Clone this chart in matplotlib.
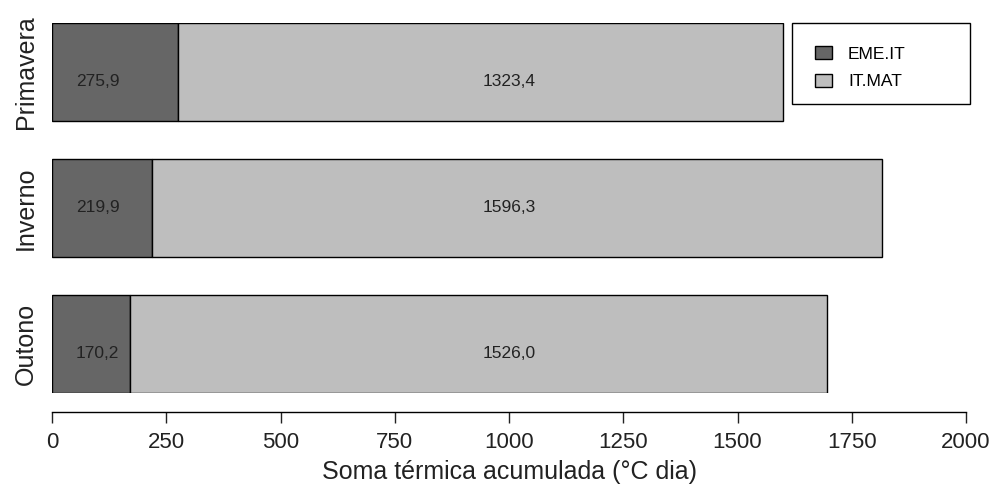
import matplotlib
matplotlib.use('Agg')
import matplotlib.pyplot as plt
from matplotlib.patches import Rectangle
import numpy as np

# --- Data ---
seasons = ['Outono', 'Inverno', 'Primavera']
eme_it = [170.2, 219.9, 275.9]
it_mat = [1526.0, 1596.3, 1323.4]
series_names = ['EME.IT', 'IT.MAT']
x_ticks = [0, 250, 500, 750, 1000, 1250, 1500, 1750, 2000]

plt.rcParams['font.family'] = ['Liberation Sans', 'DejaVu Sans']

W, H = 996, 488
fig = plt.figure(figsize=(W / 100, H / 100), dpi=100)
# axes placed in pixel terms: x 52..966, y 23..393
ax = fig.add_axes([52 / W, (H - 393) / H, (966 - 52) / W, (393 - 23) / H])

y = np.arange(len(seasons))
bar_h = 0.72
dark, light = '#666666', '#bebebe'

ax.barh(y, eme_it, height=bar_h, color=dark, edgecolor='black', linewidth=1.0,
        label=series_names[0])
ax.barh(y, it_mat, left=eme_it, height=bar_h, color=light, edgecolor='black',
        linewidth=1.0, label=series_names[1])

# value labels (fixed x positions like the original text() calls)
label_shift = [-0.07, 0.0, -0.07]
for i in range(len(seasons)):
    ax.text(100, y[i] + label_shift[i], f'{eme_it[i]:.1f}'.replace('.', ','),
            ha='center', va='center', fontsize=12.5, color='#222222')
    ax.text(1000, y[i] + label_shift[i], f'{it_mat[i]:.1f}'.replace('.', ','),
            ha='center', va='center', fontsize=12.5, color='#222222')

ax.set_xlim(0, 2000)
ax.set_ylim(-bar_h / 2, len(seasons) - 1 + bar_h / 2)

for s in ['top', 'right', 'left']:
    ax.spines[s].set_visible(False)
ax.spines['bottom'].set_position(('outward', 14))
ax.spines['bottom'].set_bounds(0, 2000)
ax.spines['bottom'].set_linewidth(1.0)

ax.set_xticks(x_ticks)
ax.set_xticklabels([str(t) for t in x_ticks])
ax.tick_params(axis='x', length=8, width=1.0, labelsize=16, pad=6, colors='#222222')
ax.set_yticks(y)
ax.set_yticklabels(seasons, rotation=90, va='center')
ax.tick_params(axis='y', length=0, labelsize=18, pad=10, colors='#222222')

ax.set_xlabel('Soma térmica acumulada (°C dia)', fontsize=18, labelpad=5, color='#222222')

# legend entries without frame, frame drawn separately (R-style box)
leg = ax.legend(loc='upper left', bbox_to_anchor=(815 / W, 1 - 46 / H),
                bbox_transform=fig.transFigure, frameon=False,
                fontsize=12.5, handlelength=1.0, handleheight=0.8,
                borderaxespad=0, borderpad=0, labelspacing=0.7, handletextpad=0.9)
leg.set_zorder(6)
box = Rectangle((792 / W, 1 - 104 / H), (970 - 792) / W, (104 - 23) / H,
                transform=fig.transFigure, facecolor='white', edgecolor='black',
                linewidth=1.0, zorder=4, clip_on=False)
ax.add_patch(box)

fig.savefig('out.png', dpi=100)
